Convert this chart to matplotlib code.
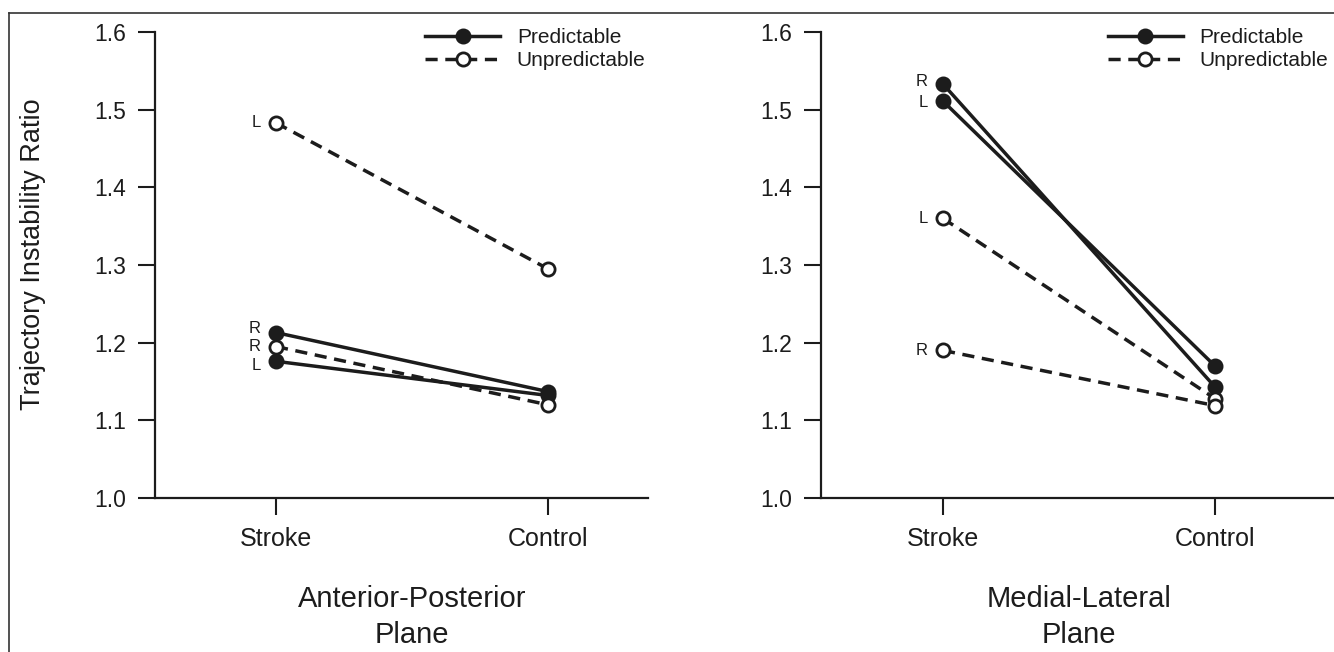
import matplotlib
matplotlib.use('Agg')
import matplotlib.pyplot as plt
from matplotlib.lines import Line2D
import matplotlib.transforms as mtrans

plt.rcParams['font.family'] = ['Liberation Sans', 'DejaVu Sans']

# ---------------- data ----------------
groups = ['Stroke', 'Control']
yticks = [1.0, 1.1, 1.2, 1.3, 1.4, 1.5, 1.6]
ytick_labels = ['1.0', '1.1', '1.2', '1.3', '1.4', '1.5', '1.6']
legend_labels = ['Predictable', 'Unpredictable']
ylabel = 'Trajectory Instability Ratio'
panel_titles = ['Anterior-Posterior\nPlane', 'Medial-Lateral\nPlane']

# Anterior-Posterior plane (Stroke, Control)
ap_pred_R = [1.213, 1.137]
ap_pred_L = [1.176, 1.132]
ap_unpred_L = [1.483, 1.295]
ap_unpred_R = [1.195, 1.120]

# Medial-Lateral plane (Stroke, Control)
ml_pred_R = [1.533, 1.143]
ml_pred_L = [1.511, 1.170]
ml_unpred_L = [1.360, 1.128]
ml_unpred_R = [1.190, 1.119]

ap_series = [('pred', 'R', ap_pred_R, 4), ('pred', 'L', ap_pred_L, -4),
             ('unpred', 'L', ap_unpred_L, 0), ('unpred', 'R', ap_unpred_R, 0)]
ml_series = [('pred', 'R', ml_pred_R, 3), ('pred', 'L', ml_pred_L, -1),
             ('unpred', 'L', ml_unpred_L, 0), ('unpred', 'R', ml_unpred_R, 0)]

# ---------------- figure ----------------
W, H = 1334, 652
fig = plt.figure(figsize=(W / 100, H / 100), dpi=100)
ink = '#1c1c1c'

# page frame lines (top and left)
fig.add_artist(Line2D([9 / W, 1.0], [1 - 13 / H, 1 - 13 / H], transform=fig.transFigure,
                      color='#333333', lw=1.2))
fig.add_artist(Line2D([9 / W, 9 / W], [0, 1 - 13 / H], transform=fig.transFigure,
                      color='#333333', lw=1.2))

ax1 = fig.add_axes([155 / W, (H - 498) / H, 493 / W, 466 / H])
ax2 = fig.add_axes([821 / W, (H - 498) / H, 513 / W, 466 / H])
ax1.set_xlim(-121 / 272, 372 / 272)
ax2.set_xlim(-122 / 272, 391 / 272)

LW = 2.5
DASH = (3.5, 2.2)


def style(kind):
    if kind == 'pred':
        return dict(color=ink, lw=LW, ls='-', marker='o', ms=10,
                    mfc=ink, mec=ink, mew=1.5)
    return dict(color=ink, lw=LW, ls=(0, DASH), marker='o', ms=9.5,
                mfc='white', mec=ink, mew=2.0)


x = [0, 1]
for ax, series, title in [(ax1, ap_series, panel_titles[0]), (ax2, ml_series, panel_titles[1])]:
    for kind, side, vals, dy in series:
        z = 3 if kind == 'pred' else 4
        ax.plot(x, vals, zorder=z, **style(kind))
        ax.annotate(side, xy=(0, vals[0]), xytext=(-15, dy), textcoords='offset pixels',
                    ha='right', va='center', fontsize=12, color=ink)
    ax.set_ylim(1.0, 1.6)
    ax.set_yticks(yticks)
    ax.set_yticklabels(ytick_labels)
    ax.set_xticks(x)
    ax.set_xticklabels(groups)
    for s in ['top', 'right']:
        ax.spines[s].set_visible(False)
    for s in ['left', 'bottom']:
        ax.spines[s].set_linewidth(1.6)
        ax.spines[s].set_color(ink)
    ax.tick_params(axis='both', direction='out', length=12, width=1.5, color=ink,
                   labelcolor=ink)
    ax.tick_params(axis='y', labelsize=16.5, pad=9)
    ax.tick_params(axis='x', labelsize=18, pad=9)
    ax.patch.set_alpha(0)
    tr = mtrans.blended_transform_factory(ax.transData, fig.transFigure)
    ax.text(0.5, (H - 617) / H, title, transform=tr, ha='center', va='center',
            fontsize=21, linespacing=1.4, color=ink)

    handles = [Line2D([], [], **style('pred')), Line2D([], [], **style('unpred'))]
    ax.legend(handles, legend_labels, loc='upper left',
              bbox_to_anchor=(0.548 if ax is ax1 else 0.559, 1.008),
              frameon=False, fontsize=15, handlelength=3.6, handletextpad=0.8,
              borderpad=0, borderaxespad=0, labelspacing=0.2, labelcolor=ink)

fig.text(33 / W, 1 - 254 / H, ylabel, rotation=90, ha='center', va='center',
         fontsize=19.5, color=ink)

fig.savefig('out.png', dpi=100)
